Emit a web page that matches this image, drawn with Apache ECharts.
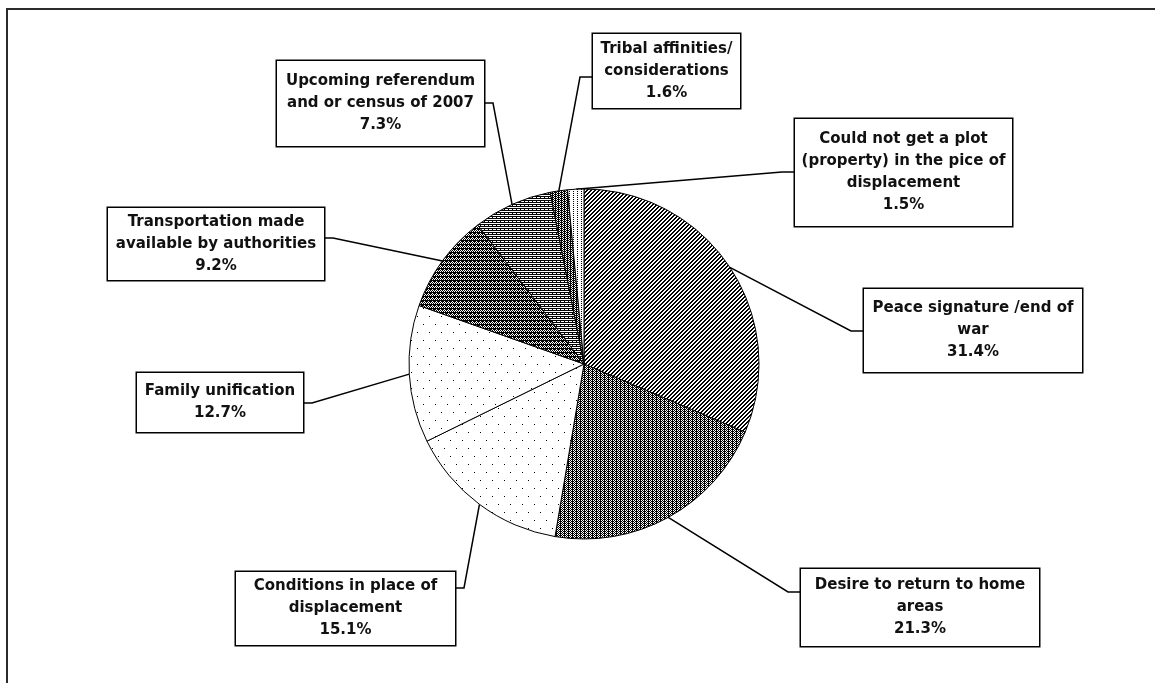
<!DOCTYPE html>
<html>
<head>
<meta charset="utf-8">
<script src="https://cdn.jsdelivr.net/npm/echarts@6/dist/echarts.min.js"></script>
<style>
html,body{margin:0;padding:0;background:#fff;}
#main{width:1155px;height:683px;}
</style>
</head>
<body>
<div id="main"></div>
<script>
// ---- data ----
const categories = [
  'Peace signature /end of\nwar',
  'Desire to return to home\nareas',
  'Conditions in place of\ndisplacement',
  'Family unification',
  'Transportation made\navailable by authorities',
  'Upcoming referendum\nand or census of 2007',
  'Tribal affinities/\nconsiderations',
  'Could not get a plot\n(property) in the pice of\ndisplacement'
];
const values = [31.4, 21.3, 15.1, 12.7, 9.2, 7.3, 1.6, 1.5];

// ---- layout (label boxes, pixels) ----
const boxes = [
  {x: 863, y: 289, w: 220, h: 83, side: 'L', ay: 331},
  {x: 800, y: 569, w: 240, h: 77, side: 'L', ay: 592},
  {x: 235, y: 572, w: 221, h: 73, side: 'R', ay: 588},
  {x: 136, y: 373, w: 168, h: 59, side: 'R', ay: 403},
  {x: 107, y: 208, w: 218, h: 72, side: 'R', ay: 238},
  {x: 276, y: 61,  w: 209, h: 85, side: 'R', ay: 103},
  {x: 592, y: 34,  w: 149, h: 74, side: 'L', ay: 77},
  {x: 794, y: 119, w: 219, h: 107, side: 'L', ay: 172}
];
const LH = 22;

// ---- patterns ----
function makePattern(w, h, fn) {
  const c = document.createElement('canvas');
  c.width = w; c.height = h;
  const ctx = c.getContext('2d');
  ctx.fillStyle = '#fff'; ctx.fillRect(0, 0, w, h);
  ctx.fillStyle = '#000';
  for (let y = 0; y < h; y++) for (let x = 0; x < w; x++) if (fn(x, y)) ctx.fillRect(x, y, 1, 1);
  return {image: c, repeat: 'repeat'};
}
const patterns = [
  makePattern(8, 8, (x, y) => ((x + y) % 4 < 2) && !(x % 8 === 3 && y % 4 === 0)),
  makePattern(8, 8, (x, y) => ((x + y) % 2 === 0) || (x % 4 === 0 && y % 2 === 1)),
  makePattern(12, 16, (x, y) => (y === 0 && x === 0) || (y === 8 && x === 6)),
  makePattern(12, 16, (x, y) => (y === 4 && x === 3) || (y === 12 && x === 9)),
  makePattern(8, 8, (x, y) => ((x + y) % 2 === 0) || (y % 4 === 0) || (x % 4 === 2 && y % 4 === 1)),
  makePattern(8, 8, (x, y) => (y % 2 === 0) || (y % 4 === 1 && x % 4 === 0)),
  makePattern(6, 6, (x, y) => ((x + y) % 2 === 0) || (x % 3 === 0)),
  makePattern(4, 4, (x, y) => (x === 1 && y % 2 === 1))
];

const chart = echarts.init(document.getElementById('main'), null, {renderer: 'canvas'});

const data = categories.map((name, i) => {
  const b = boxes[i];
  const nLines = name.split('\n').length + 1;
  const padV = Math.max(0, (b.h - nLines * LH) / 2);
  return {
    name: name,
    value: values[i],
    itemStyle: {color: patterns[i]},
    label: {width: b.w - 4, padding: [padV, 1, padV, 1]}
  };
});

chart.setOption({
  animation: false,
  backgroundColor: '#ffffff',
  graphic: [{
    type: 'rect', silent: true, z: -10,
    shape: {x: 7, y: 9, width: 1300, height: 800},
    style: {fill: 'none', stroke: '#2b2b2b', lineWidth: 2}
  }],
  series: [{
    type: 'pie',
    center: [584, 364],
    radius: 175,
    startAngle: 90,
    clockwise: true,
    avoidLabelOverlap: false,
    data: data,
    itemStyle: {borderColor: '#000', borderWidth: 1},
    emphasis: {disabled: true},
    label: {
      show: true,
      position: 'outside',
      formatter: p => p.name + '\n' + p.value.toFixed(1) + '%',
      fontFamily: 'DejaVu Sans',
      fontWeight: 'bold',
      fontSize: 15,
      lineHeight: LH,
      overflow: 'none',
      color: '#111',
      backgroundColor: '#fff',
      borderColor: '#000',
      borderWidth: 1.5,
      align: 'center'
    },
    labelLine: {show: true, length: 10, length2: 10, smooth: false,
      lineStyle: {color: '#000', width: 1.5}},
    labelLayout: function (params) {
      const i = params.dataIndex;
      const b = boxes[i];
      const pts = params.labelLinePoints;
      const edge = pts && pts[0] ? pts[0] : [584, 364];
      const ax = b.side === 'L' ? b.x : b.x + b.w;
      const bx = b.side === 'L' ? ax - 12 : ax + 8;
      return {
        x: b.x + b.w / 2,
        y: b.y,
        align: 'center',
        verticalAlign: 'top',
        labelLinePoints: [edge, [bx, b.ay], [ax, b.ay]]
      };
    }
  }]
});
</script>
</body>
</html>
